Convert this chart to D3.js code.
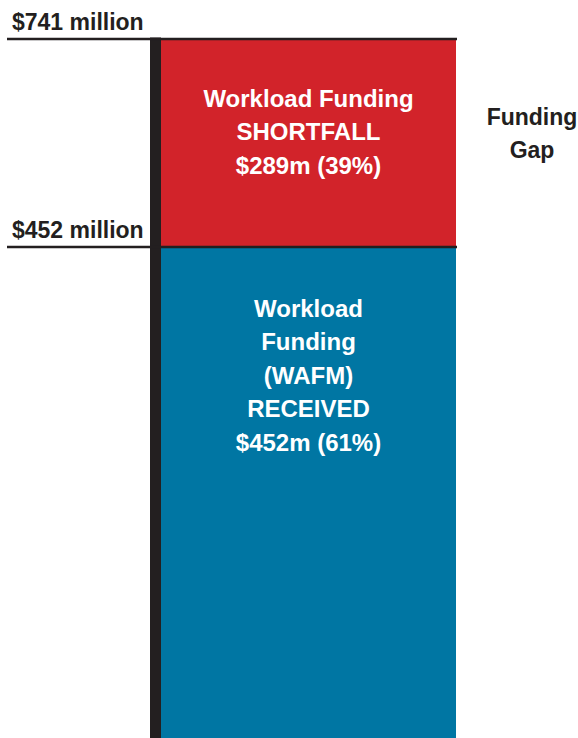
<!DOCTYPE html>
<html>
<head>
<meta charset="utf-8">
<script src="https://cdn.jsdelivr.net/npm/d3@7"></script>
<style>
  body { margin: 0; background: #fff; }
  svg { display: block; }
  text { font-family: "Liberation Sans", Arial, sans-serif; font-weight: bold; font-size: 23px; }
  .level-label, .gap-label { fill: #231f20; }
  .seg-label { fill: #fff; text-anchor: middle; font-size: 24px; }
</style>
</head>
<body>
<div class="chart"></div>
<script>
// values in $ million
const levels = [741, 452];
const levelLabels = ["$741 million", "$452 million"];

const segments = ["shortfall", "received"];
const segmentStart = [452, 0];
const segmentEnd = [741, 452];
const segmentColors = ["#d2232a", "#0076a3"];
const segmentLines = [
    ["Workload Funding", "SHORTFALL", "$289m (39%)"],
    ["Workload", "Funding", "(WAFM)", "RECEIVED", "$452m (61%)"]
];

const gapLines = ["Funding", "Gap"];

const width = 578;
const height = 738;

const svg = d3.select(".chart").append("svg")
    .attr("width", width)
    .attr("height", height);

// column is not drawn to scale below the $452m line, so a piecewise scale
const yScale = d3.scaleLinear()
    .domain([0, 452, 741])
    .range([height, 247, 39]);

const barLeft = 161;
const barRight = 456;
const barMid = (barLeft + barRight) / 2;

segments.forEach((s, i) => {
    svg.append("rect")
        .attr("x", barLeft)
        .attr("y", yScale(segmentEnd[i]))
        .attr("width", barRight - barLeft)
        .attr("height", yScale(segmentStart[i]) - yScale(segmentEnd[i]))
        .style("fill", segmentColors[i]);

    svg.append("g").selectAll("text")
        .data(segmentLines[i])
        .enter()
        .append("text")
        .text(d => d)
        .attr("x", barMid)
        .attr("y", (d, j) => yScale(segmentEnd[i]) + 68 + (i ? 2 : 0) + j * 33.4)
        .classed("seg-label", true);
});

// vertical axis bar
svg.append("rect")
    .attr("x", 150)
    .attr("y", yScale(d3.max(levels)) - 1.5)
    .attr("width", 11)
    .attr("height", yScale(0) - yScale(d3.max(levels)) + 1.5)
    .style("fill", "#231f20");

levels.forEach((v, i) => {
    svg.append("line")
        .attr("x1", 7)
        .attr("x2", barRight + 1)
        .attr("y1", yScale(v))
        .attr("y2", yScale(v))
        .style("stroke", "#231f20")
        .style("stroke-width", 2.5);

    svg.append("text")
        .text(levelLabels[i])
        .attr("x", 12)
        .attr("y", yScale(v) - 9)
        .classed("level-label", true);
});

svg.append("g").selectAll("text")
    .data(gapLines)
    .enter()
    .append("text")
    .text(d => d)
    .attr("x", 532)
    .attr("y", (d, j) => yScale(741) + 86 + j * 33)
    .style("text-anchor", "middle")
    .classed("gap-label", true);
</script>
</body>
</html>
